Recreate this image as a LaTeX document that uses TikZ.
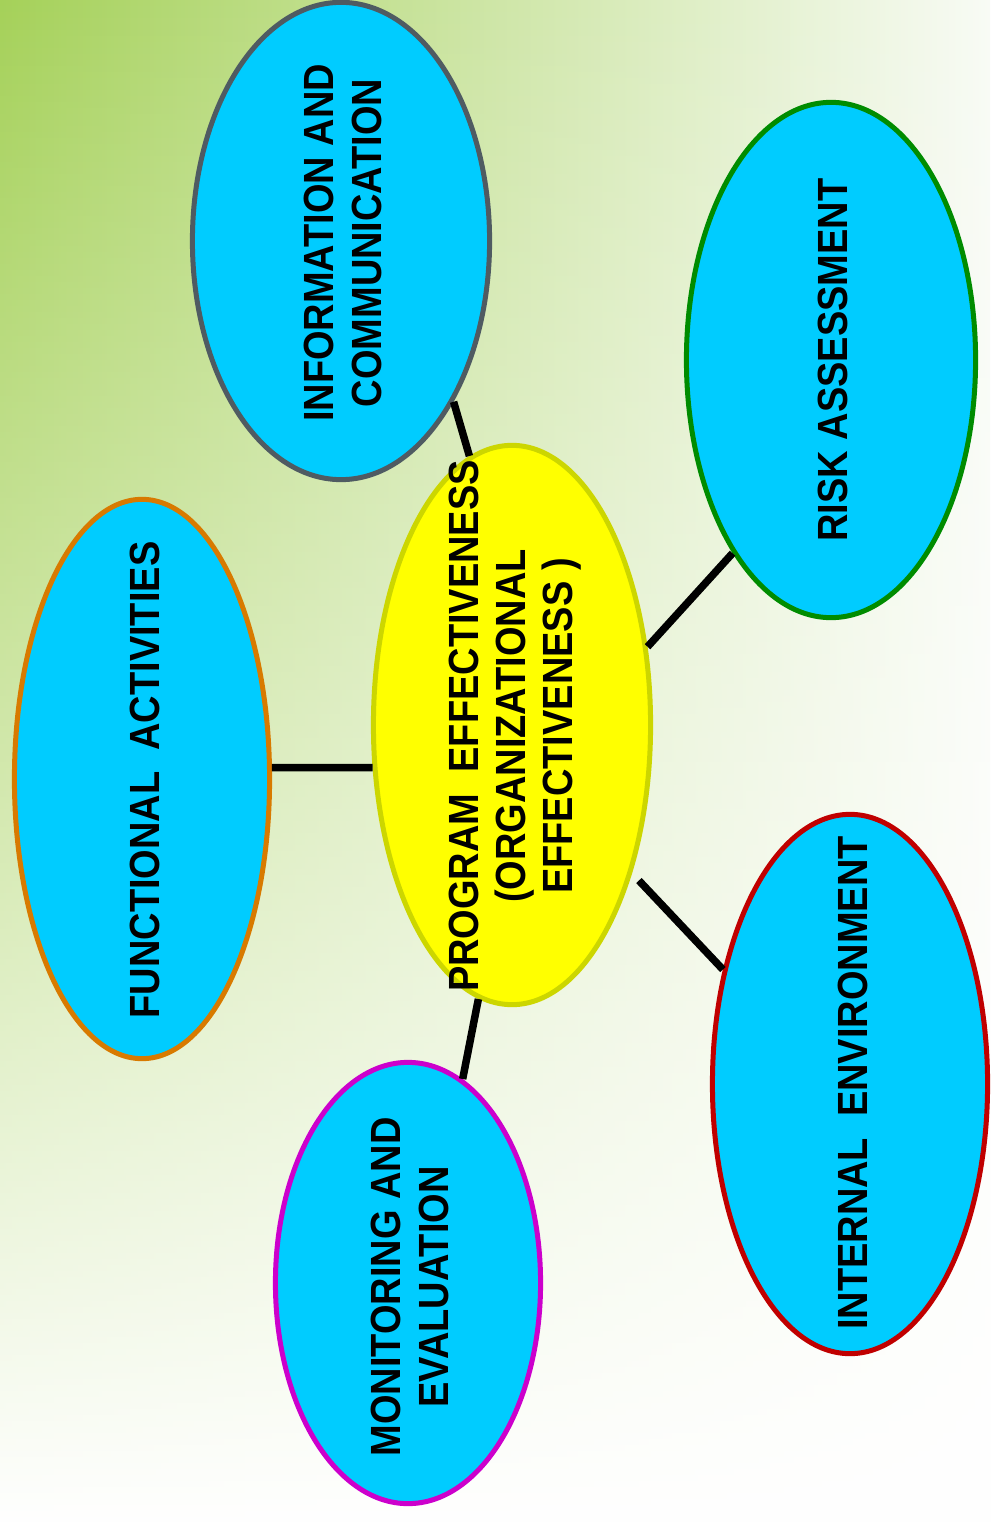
\documentclass[tikz,border=0pt]{standalone}
\usepackage{fontspec}
\setmainfont{Liberation Sans}
\usetikzlibrary{shapes.geometric}
\usetikzlibrary{fadings}

\definecolor{bggreen}{HTML}{A5D159}
\definecolor{bgmid}{HTML}{D9E9C4}
\definecolor{bgwhite}{HTML}{F8FBF5}
\definecolor{bubblecyan}{HTML}{00CCFF}
\definecolor{centralyellow}{HTML}{FFFF00}
\definecolor{infogray}{HTML}{4F5B62}
\definecolor{riskgreen}{HTML}{008C00}
\definecolor{funcorange}{HTML}{D87A00}
\definecolor{centralrim}{HTML}{CCD600}
\definecolor{monimagenta}{HTML}{CC00CC}
\definecolor{internred}{HTML}{C00000}

\begin{document}
\begin{tikzpicture}[x=0.01cm,y=-0.01cm,
  bubble/.style={ellipse,draw,fill=bubblecyan,line width=0.05cm,inner sep=0pt},
  caption/.style={rotate=90,xscale=0.9,align=center,inner sep=0pt,
    font=\fontsize{12}{13.4}\selectfont\bfseries},
  link/.style={line width=0.075cm}]

% background
\useasboundingbox (0,0) rectangle (990,1522);
\clip (0,0) rectangle (990,1522);
\shade[left color=bggreen, middle color=bgmid, right color=bgwhite] (0,0) rectangle (990,1522);
\fill[white, path fading=north] (0,0) rectangle (990,1522);

% the ellipses
\node[bubble, draw=infogray, minimum width=2.97cm, minimum height=4.77cm] (info) at (341,241) {};
\node[bubble, draw=riskgreen, minimum width=2.89cm, minimum height=5.15cm] (risk) at (831,360) {};
\node[bubble, draw=funcorange, minimum width=2.55cm, minimum height=5.59cm] (functional) at (142,779) {};
\node[bubble, draw=centralrim, fill=centralyellow, minimum width=2.77cm, minimum height=5.59cm] (central) at (512,725) {};
\node[bubble, draw=monimagenta, minimum width=2.65cm, minimum height=4.41cm] (monitoring) at (408,1283) {};
\node[bubble, draw=internred, minimum width=2.75cm, minimum height=5.39cm] (internal) at (850,1084) {};

% links
\draw[link] (info.305.5) -- (central.99.65);
\draw[link] (central.30.6) -- (risk.243.5);
\draw[link, shorten <=0.1cm] (central.-51) -- (internal.138.1);
\draw[link] (central.263.5) -- (monitoring.75.5);
\draw[link] (functional.5.4) -- (central.197.1);

% texts
\node[caption] (info-text) at (343,243) {INFORMATION AND\\COMMUNICATION};
\node[caption] (risk-text) at (833,360) {RISK ASSESSMENT};
\node[caption] (functional-text) at (145,780) {FUNCTIONAL~~ACTIVITIES};
\node[caption] (central-text) at (515,726) {PROGRAM~~EFFECTIVENESS\\(ORGANIZATIONAL\\EFFECTIVENESS )};
\node[caption] (monitoring-text) at (410,1287) {MONITORING AND\\EVALUATION};
\node[caption] (internal-text) at (853,1083) {INTERNAL~~ENVIRONMENT};

\end{tikzpicture}
\end{document}
